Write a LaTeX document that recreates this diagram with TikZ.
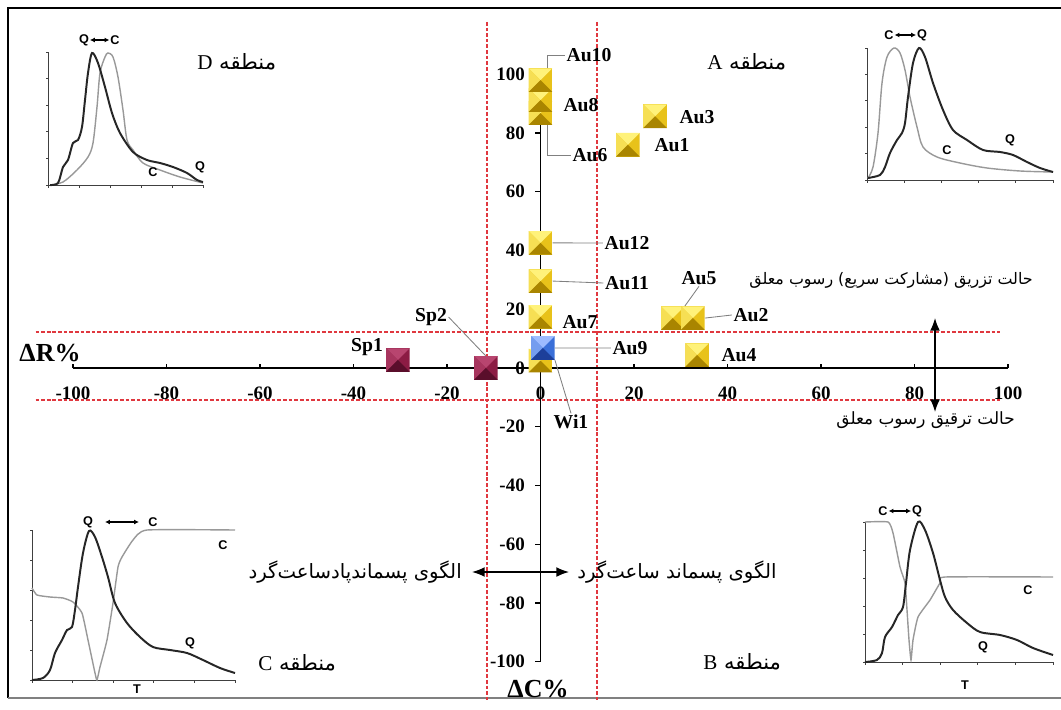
\documentclass[tikz,border=0pt]{standalone}
\usepackage{fontspec}
\setmainfont{Liberation Serif}
\setsansfont{Liberation Sans}
\newfontfamily\arabicfont[Script=Arabic]{DejaVu Sans}
\TeXXeTstate=1
\usetikzlibrary{arrows.meta}
\definecolor{aulight}{HTML}{FFF27A}
\definecolor{aumid}{HTML}{E8C21A}
\definecolor{audark}{HTML}{A98500}
\definecolor{wilight}{HTML}{9DBBFF}
\definecolor{wimid}{HTML}{3A6FD8}
\definecolor{widark}{HTML}{1D3F9A}
\definecolor{splight}{HTML}{B8456F}
\definecolor{spmid}{HTML}{8C1C44}
\definecolor{spdark}{HTML}{5A0E2B}
\definecolor{reddash}{HTML}{E0383F}

\begin{document}
\begin{tikzpicture}[x=0.25mm, y=-0.25mm, >=Latex,
	gem/.style n args={3}{minimum size=5.9mm, inner sep=0pt, path picture={
		\fill[#2] (path picture bounding box.north west) rectangle (path picture bounding box.south east);
		\fill[#1] (path picture bounding box.north west) -- (path picture bounding box.north east) -- (path picture bounding box.center) -- cycle;
		\fill[#1!60!#2] (path picture bounding box.north west) -- (path picture bounding box.south west) -- (path picture bounding box.center) -- cycle;
		\fill[#3] (path picture bounding box.south west) -- (path picture bounding box.south east) -- (path picture bounding box.center) -- cycle;
	}},
	au/.style={gem={aulight}{aumid}{audark}},
	wi/.style={gem={wilight}{wimid}{widark}},
	sp/.style={gem={splight}{spmid}{spdark}},
	lab/.style={font=\bfseries\fontsize{14}{16}\selectfont, inner sep=1pt},
	tick/.style={font=\bfseries\fontsize{13.5}{15}\selectfont, inner sep=1pt},
	axt/.style={font=\bfseries\fontsize{18.5}{20}\selectfont, inner sep=0pt},
	fa/.style={font=\arabicfont\fontsize{14}{16}\selectfont, inner sep=0pt},
	zone/.style={font=\arabicfont\fontsize{15}{17}\selectfont, inner sep=0pt, anchor=west},
	lead/.style={gray, line width=0.6pt},
	dashline/.style={reddash, line width=1.1pt, dash pattern=on 2.6pt off 1.4pt},
	minaxis/.style={black!75, line width=0.7pt},
	qline/.style={black!85, line width=1.4pt},
	cline/.style={black!40, line width=1pt},
	mini/.style={font=\sffamily\bfseries\fontsize{9}{10}\selectfont, inner sep=0.5pt},
	twin/.style={<->, >={Latex[length=3.5pt, width=3.5pt]}, line width=0.8pt}]
	\path[use as bounding box, fill=white] (0,0) rectangle (1061,709);
	\draw[line width=1.4pt] (8,698) -- (8,8) -- (1061,8);
	\draw[black!50, line width=1.4pt] (8,698) -- (1061,698);

	% small hydrographs
	\foreach \ox/\oy/\w/\h in {48/185/155/133, 867/180/186/132, 32/680/203/150, 865/662/188/140}{
			\draw[minaxis] (\ox,\oy-\h) -- (\ox,\oy) -- (\ox+\w,\oy);
			\foreach \k in {0,...,5}{
					\draw[minaxis] (\ox+\k*\w/5,\oy) -- ++(0,2.5);
					\draw[minaxis] (\ox,\oy-\k*\h/5) -- ++(-2.5,0);
				}
		}
	\draw[cline] plot[smooth, tension=0.5] coordinates {(50,185) (63,182) (77,170) (88,157) (93,143) (97,107) (100,73) (105,57) (108,53) (113,57) (118,77) (123,110) (127,140) (133,150) (143,163) (160,170) (180,177) (203,183)};
	\draw[qline] plot[smooth, tension=0.5] coordinates {(50,185) (58,183) (63,167) (68,160) (73,143) (78,140) (82,127) (85,100) (88,73) (92,53) (98,63) (105,87) (112,113) (120,133) (133,152) (147,160) (160,163) (173,167) (187,173) (197,180) (203,182)};
	\draw[cline] plot[smooth, tension=0.5] coordinates {(868,178) (873,167) (878,133) (882,83) (887,57) (894,48) (900,53) (905,70) (910,97) (917,127) (923,147) (937,157) (960,163) (987,168) (1020,171) (1053,172)};
	\draw[qline] plot[smooth, tension=0.5] coordinates {(868,178) (880,175) (885,167) (890,153) (897,140) (902,133) (905,123) (908,97) (913,63) (919,48) (925,57) (933,83) (943,110) (953,130) (967,140) (983,150) (1000,152) (1013,155) (1027,162) (1040,168) (1053,172)};
	\draw[cline] plot[smooth, tension=0.3] coordinates {(32,588) (37,595) (50,597) (63,598) (73,602) (82,613) (88,640) (95,673) (97,680) (100,667) (107,640) (113,603) (118,567) (122,557) (133,540) (147,530) (235,530)};
	\draw[qline] plot[smooth, tension=0.5] coordinates {(32,680) (43,678) (50,670) (55,653) (62,640) (67,630) (72,627) (75,610) (78,587) (83,553) (89,531) (95,537) (102,557) (108,577) (115,603) (127,623) (140,637) (153,647) (170,650) (187,653) (203,660) (220,668) (235,673)};
	\draw[cline] plot[smooth, tension=0.3] coordinates {(865,522) (888,522) (893,533) (900,567) (905,583) (907,610) (909,640) (911,660) (913,640) (918,617) (930,600) (940,583) (945,577) (1053,577)};
	\draw[qline] plot[smooth, tension=0.5] coordinates {(865,662) (877,660) (882,653) (885,637) (892,627) (898,615) (903,607) (906,583) (910,550) (918,522) (925,530) (933,553) (940,580) (945,597) (953,610) (967,623) (980,632) (1000,635) (1017,640) (1033,648) (1053,655)};

	\node[mini] (dq) at (84,40) {Q};
	\node[mini] (dc) at (115,40) {C};
	\draw[twin] (dq) -- (dc);
	\node[mini] (dc2) at (153,172) {C};
	\node[mini] (dq2) at (200,167) {Q};
	\node[mini] (ac) at (889,35) {C};
	\node[mini] (aq) at (922,35) {Q};
	\draw[twin] (ac) -- (aq);
	\node[mini] (ac2) at (947,150) {C};
	\node[mini] (aq2) at (1010,140) {Q};
	\node[mini] (cq) at (88,522) {Q};
	\node[mini] (cc) at (153,522) {C};
	\coordinate (cl) at (105,522);
	\coordinate (cr) at (139,522);
	\draw[twin] (cl) -- (cr);
	\node[mini] (cc2) at (223,545) {C};
	\node[mini] (cq2) at (190,643) {Q};
	\node[mini] (ct) at (137,689) {T};
	\node[mini] (bc) at (883,511) {C};
	\node[mini] (bq) at (917,511) {Q};
	\draw[twin] (bc) -- (bq);
	\node[mini] (bc2) at (1028,590) {C};
	\node[mini] (bq2) at (983,647) {Q};
	\node[mini] (bt) at (965,685) {T};

	% main plot
	\begin{scope}[shift={(540.5,368)}, xscale=4.675, yscale=-2.9375]
		\draw[dashline] (-11.4,117.8) -- (-11.4,-113);
		\draw[dashline] (12.1,117.8) -- (12.1,-113);
		\draw[dashline] (-108,12.2) -- (98.3,12.2);
		\draw[dashline] (-108,-10.9) -- (98.3,-10.9);
		\draw[line width=1.2pt] (-100,0) -- (100,0);
		\draw[line width=1.2pt] (0,100) -- (0,-100);
		\foreach \v in {-100,-80,...,100}{
				\draw[line width=0.9pt] (\v,0) -- ++(0,1.5);
				\draw[line width=0.9pt] (0,\v) -- ++(-1.2,0);
				\node[tick] (hx\v) at (\v,-8.5) {\v};
				\node[tick, anchor=east] (vy\v) at (-3,\v) {\v};
			}
		\node[au] (au1) at (18.7,76) {};
		\node[au] (au3) at (24.5,85.7) {};
		\node[au] (au6) at (0,86.8) {};
		\node[au] (au8) at (0,91.2) {};
		\node[au] (au10) at (0,98) {};
		\node[au] (au12) at (0,42.6) {};
		\node[au] (au11) at (0,29.6) {};
		\node[au] (au7) at (0,17.4) {};
		\node[au] (au5) at (28.3,17) {};
		\node[au] (au2) at (32.6,17) {};
		\node[au] (au4) at (33.5,4.4) {};
		\node[au] (au9) at (0,2.5) {};
		\node[wi] (wi1) at (0.5,6.8) {};
		\node[sp] (sp1) at (-30.5,2.7) {};
		\node[sp] (sp2) at (-11.7,0) {};
	\end{scope}

	\node[lab] (lau10) at (589,55) {Au10};
	\node[lab] (lau8) at (581,105) {Au8};
	\node[lab] (lau6) at (590,155) {Au6};
	\node[lab] (lau3) at (697,117) {Au3};
	\node[lab] (lau1) at (672,145) {Au1};
	\node[lab] (lau12) at (627,243) {Au12};
	\node[lab] (lau11) at (627,283) {Au11};
	\node[lab] (lau7) at (580,322) {Au7};
	\node[lab] (lau5) at (699,278) {Au5};
	\node[lab] (lau2) at (751,315) {Au2};
	\node[lab] (lau9) at (630,348) {Au9};
	\node[lab] (lau4) at (739,355) {Au4};
	\node[lab] (lwi1) at (571,422) {Wi1};
	\node[lab] (lsp1) at (367,347) {Sp1};
	\node[lab] (lsp2) at (431,317) {Sp2};
	\draw[lead] (au10.60) |- (lau10.west);
	\draw[lead] (au6.-60) |- (lau6.west);
	\draw[lead] (au12.east) -- (lau12.west);
	\draw[lead] (au11.east) -- (lau11.west);
	\draw[lead] (lau5.south) -- (au5.north east);
	\draw[lead] (au2.east) -- (lau2.west);
	\draw[lead] (wi1.east) -- (lau9.west);
	\draw[lead] (wi1.south east) -- (lwi1.north);
	\draw[lead] (lsp2.east) -- (sp2.north);

	\node[axt] (dr) at (50,353) {ΔR\%};
	\node[axt] (dcp) at (538,689) {ΔC\%};

	\node[zone] (zd) at (197,62) {\beginR منطقه {\rmfamily D}\endR};
	\node[zone] (za) at (707,62) {\beginR منطقه {\rmfamily A}\endR};
	\node[zone] (zc) at (258,663) {\beginR منطقه {\rmfamily C}\endR};
	\node[zone] (zb) at (703,662) {\beginR منطقه {\rmfamily B}\endR};

	\node[fa, anchor=east, font=\arabicfont\fontsize{11.3}{13}\selectfont] (inj) at (1033,280) {\beginR حالت تزریق (مشارکت سریع) رسوب معلق\endR};
	\node[fa, anchor=east, font=\arabicfont\fontsize{12}{14}\selectfont] (dil) at (1015,420) {\beginR حالت ترقیق رسوب معلق\endR};
	\coordinate (up) at (935,318);
	\coordinate (dn) at (935,412);
	\draw[<->, >={Latex[length=9pt, width=7pt]}, line width=1pt] (up) -- (dn);

	\coordinate (lt) at (472,572);
	\coordinate (rt) at (569,572);
	\draw[<->, >={Latex[length=9pt, width=7pt]}, line width=1pt] (lt) -- (rt);
	\node[fa, anchor=east] (acw) at (462,572) {\beginR الگوی پسماندپادساعت‌گرد\endR};
	\node[fa, anchor=west] (cw) at (577,572) {\beginR الگوی پسماند ساعت‌گرد\endR};
\end{tikzpicture}
\end{document}
